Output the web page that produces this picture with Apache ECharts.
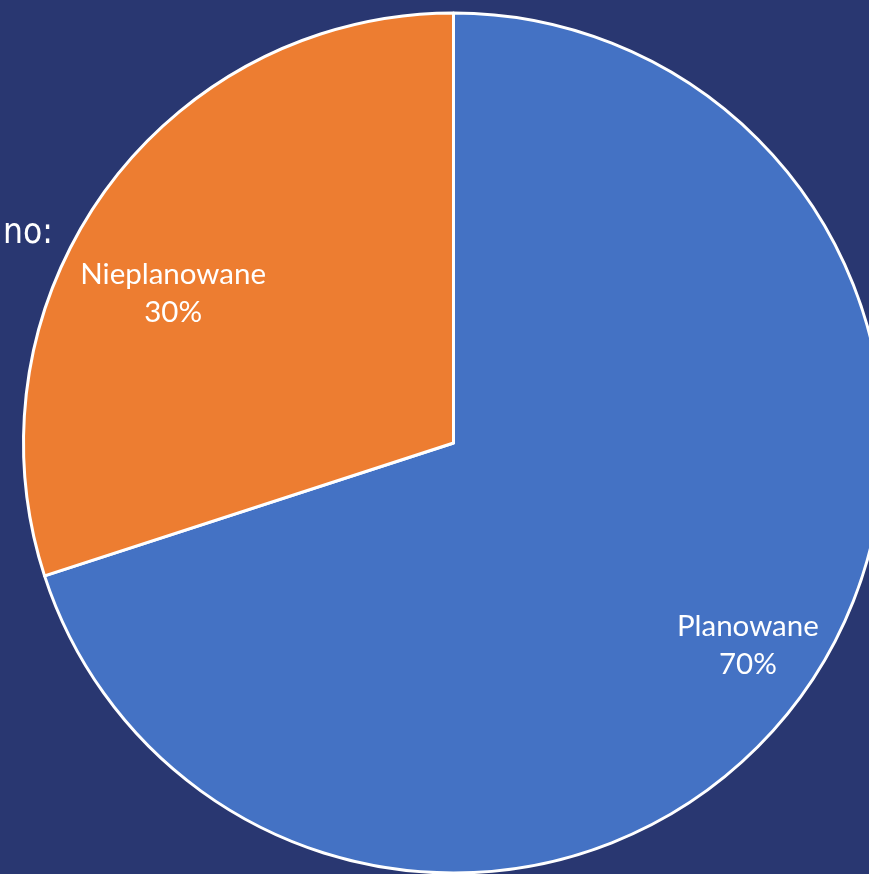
<!DOCTYPE html>
<html>
<head>
<meta charset="utf-8">
<script src="https://cdn.jsdelivr.net/npm/echarts@6/dist/echarts.min.js"></script>
<style>
html,body{margin:0;padding:0;background:#293771;}
#chart{width:869px;height:874px;}
</style>
</head>
<body>
<div id="chart"></div>
<script>
const categories = ['Planowane', 'Nieplanowane'];
const values = [70, 30];
const colors = ['#4472C4', '#ED7D31'];
const labelOffsets = [[118, 74], [-104, -21]];

const chart = echarts.init(document.getElementById('chart'));
chart.setOption({
  backgroundColor: '#293771',
  animation: false,
  graphic: [{
    type: 'text',
    left: 3,
    top: 216,
    style: {
      text: 'no:',
      fill: '#ffffff',
      font: '35px "DejaVu Sans Condensed"'
    }
  }],
  series: [{
    type: 'pie',
    center: [453.5, 443],
    radius: 430,
    startAngle: 90,
    clockwise: true,
    itemStyle: { borderColor: '#ffffff', borderWidth: 3 },
    label: {
      show: true,
      position: 'inside',
      color: '#ffffff',
      fontFamily: 'Lato',
      fontWeight: 'normal',
      fontSize: 29.5,
      lineHeight: 38,
      formatter: p => p.name + '\n' + p.value + '%'
    },
    labelLine: { show: false },
    emphasis: { disabled: true },
    data: categories.map((c, i) => ({
      name: c,
      value: values[i],
      itemStyle: { color: colors[i] },
      label: { offset: labelOffsets[i] }
    }))
  }]
});
</script>
</body>
</html>
